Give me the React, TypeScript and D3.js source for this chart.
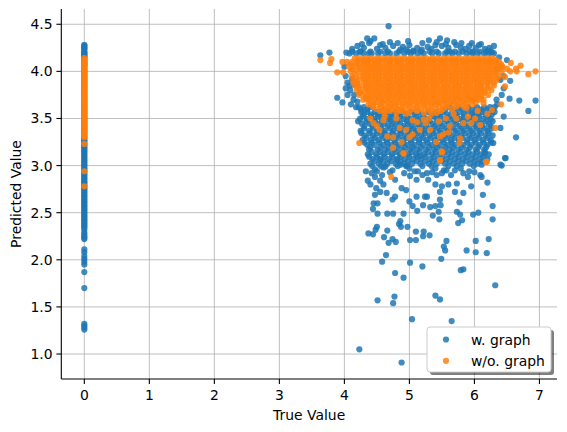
import React from 'react';
import * as d3 from 'd3';

const xTicks = [0, 1, 2, 3, 4, 5, 6, 7];
const yTicks = [1.0, 1.5, 2.0, 2.5, 3.0, 3.5, 4.0, 4.5];
const seriesNames = ['w. graph', 'w/o. graph'];
const seriesColors = ['#1f77b4', '#ff7f0e'];

// points at True Value = 0
const zeroBlueY = [4.28, 4.26, 4.24, 4.21, 4.19, 4.17, 4.15, 4.12, 4.09, 4.06, 4.02, 3.98, 3.94, 3.9, 3.86, 3.82, 3.78, 3.74, 3.7, 3.66, 3.62, 3.58, 3.54, 3.5, 3.46, 3.42, 3.38, 3.34, 3.3, 3.27, 3.24, 3.21, 3.18, 3.15, 3.12, 3.09, 3.06, 3.03, 3.0, 2.97, 2.94, 2.91, 2.88, 2.85, 2.82, 2.79, 2.76, 2.73, 2.7, 2.67, 2.64, 2.61, 2.58, 2.55, 2.52, 2.49, 2.46, 2.43, 2.4, 2.37, 2.34, 2.29, 2.25, 2.22, 2.11, 2.08, 2.04, 2.01, 1.98, 1.95, 1.87, 1.7, 1.32, 1.3, 1.28, 1.26];
const zeroBlueY2 = [4.275, 4.25, 4.23, 4.2, 4.18, 4.16, 4.135, 4.105, 4.075, 4.04, 4.0, 3.96, 3.92, 3.88, 3.84, 3.8, 3.76, 3.72, 3.68, 3.64, 3.6, 3.56, 3.52, 3.48, 3.44, 3.4, 3.36, 3.32, 3.285, 3.255, 3.225, 3.195, 3.165, 3.135, 3.105, 3.075, 3.045, 3.015, 2.985, 2.955, 2.925, 2.895, 2.865, 2.835, 2.805, 2.775, 2.745, 2.715, 2.685, 2.655, 2.625, 2.595, 2.565, 2.535, 2.505, 2.475, 2.445, 2.415, 2.385, 2.355, 2.32, 2.27, 2.235];
const zeroOrangeY = [4.14, 4.11, 4.08, 4.05, 4.02, 3.99, 3.96, 3.93, 3.9, 3.87, 3.84, 3.81, 3.78, 3.75, 3.72, 3.69, 3.66, 3.63, 3.6, 3.57, 3.54, 3.51, 3.48, 3.45, 3.42, 3.39, 3.36, 3.33, 3.3, 3.23, 2.94, 2.78];
const zeroOrangeY2 = [4.125, 4.095, 4.065, 4.035, 4.005, 3.975, 3.945, 3.915, 3.885, 3.855, 3.825, 3.795, 3.765, 3.735, 3.705, 3.675, 3.645, 3.615, 3.585, 3.555, 3.525, 3.495, 3.465, 3.435, 3.405, 3.375, 3.345, 3.315];

// dense blue cloud, rows of [predicted, true values]
const blueRows: [number, number[]][] = [
  [4.21, [4.12, 4.25, 4.4, 4.55, 4.67, 4.84, 4.98, 5.06, 5.18, 5.31, 5.42, 5.58, 5.7, 5.82, 5.93, 6.08, 6.18, 6.26]],
  [4.19, [4.08, 4.18, 4.3, 4.38, 4.52, 4.63, 4.7, 4.8, 4.92, 5.02, 5.13, 5.22, 5.35, 5.45, 5.55, 5.66, 5.76, 5.88, 5.97, 6.05, 6.15, 6.22, 6.3]],
  [3.62, [4.22, 4.3, 4.4, 5.62, 5.76, 5.9, 6.04, 6.15, 6.24, 6.31]],
  [3.595, [4.26, 4.35, 5.55, 5.69, 5.83, 5.97, 6.1, 6.2, 6.28]],
  [3.57, [4.26, 4.35, 4.47, 4.55, 4.66, 4.79, 4.9, 5.03, 5.14, 5.29, 5.41, 5.52, 5.66, 5.77, 5.91, 6.01, 6.12, 6.23, 6.31]],
  [3.545, [4.3, 4.41, 4.51, 4.6, 4.72, 4.84, 4.96, 5.08, 5.2, 5.34, 5.46, 5.58, 5.71, 5.84, 5.96, 6.06, 6.17, 6.27]],
  [3.52, [4.28, 4.41, 4.52, 4.63, 4.73, 4.86, 4.97, 5.11, 5.22, 5.37, 5.48, 5.61, 5.73, 5.84, 5.97, 6.07, 6.21]],
  [3.495, [4.24, 4.35, 4.46, 4.57, 4.68, 4.79, 4.91, 5.03, 5.16, 5.28, 5.42, 5.54, 5.66, 5.78, 5.9, 6.02, 6.14, 6.25]],
  [3.47, [4.21, 4.34, 4.47, 4.58, 4.71, 4.82, 4.96, 5.07, 5.19, 5.31, 5.44, 5.57, 5.69, 5.82, 5.95, 6.06, 6.18, 6.28]],
  [3.445, [4.27, 4.39, 4.5, 4.62, 4.74, 4.86, 4.98, 5.12, 5.24, 5.36, 5.48, 5.6, 5.72, 5.85, 5.98, 6.1, 6.22]],
  [3.42, [4.31, 4.43, 4.55, 4.67, 4.78, 4.91, 5.03, 5.15, 5.26, 5.39, 5.51, 5.63, 5.77, 5.88, 6.01, 6.12, 6.25]],
  [3.395, [4.3, 4.44, 4.57, 4.7, 4.82, 4.94, 5.06, 5.19, 5.31, 5.43, 5.56, 5.68, 5.8, 5.92, 6.04, 6.16, 6.26]],
  [3.37, [4.25, 4.38, 4.51, 4.62, 4.75, 4.86, 4.99, 5.1, 5.23, 5.35, 5.47, 5.59, 5.71, 5.83, 5.95, 6.08, 6.2]],
  [3.345, [4.26, 4.39, 4.5, 4.62, 4.74, 4.87, 5.0, 5.12, 5.24, 5.37, 5.49, 5.61, 5.74, 5.86, 5.98, 6.1, 6.22]],
  [3.32, [4.31, 4.44, 4.57, 4.68, 4.81, 4.93, 5.06, 5.18, 5.31, 5.42, 5.55, 5.66, 5.79, 5.92, 6.04, 6.17, 6.28]],
  [3.295, [4.34, 4.47, 4.6, 4.72, 4.84, 4.96, 5.09, 5.21, 5.33, 5.45, 5.58, 5.7, 5.82, 5.95, 6.07, 6.2]],
  [3.27, [4.28, 4.41, 4.52, 4.65, 4.77, 4.9, 5.02, 5.15, 5.26, 5.39, 5.51, 5.64, 5.76, 5.89, 6.0, 6.13, 6.25]],
  [3.245, [4.31, 4.42, 4.54, 4.66, 4.78, 4.91, 5.03, 5.15, 5.28, 5.4, 5.53, 5.65, 5.77, 5.89, 6.02, 6.14, 6.26]],
  [3.22, [4.35, 4.46, 4.6, 4.72, 4.84, 4.97, 5.08, 5.21, 5.34, 5.46, 5.59, 5.7, 5.83, 5.95, 6.08, 6.2]],
  [3.195, [4.4, 4.55, 4.68, 4.8, 4.93, 5.05, 5.17, 5.3, 5.42, 5.55, 5.67, 5.8, 5.93, 6.06, 6.18]],
  [3.17, [4.38, 4.51, 4.63, 4.76, 4.88, 5.01, 5.12, 5.25, 5.38, 5.5, 5.62, 5.75, 5.88, 6.02, 6.15]],
  [3.145, [4.42, 4.55, 4.67, 4.8, 4.92, 5.04, 5.16, 5.29, 5.41, 5.54, 5.66, 5.79, 5.91, 6.04, 6.16]],
  [3.12, [4.36, 4.49, 4.6, 4.73, 4.85, 4.98, 5.1, 5.23, 5.35, 5.47, 5.6, 5.72, 5.85, 5.97, 6.1, 6.22]],
  [3.095, [4.38, 4.5, 4.62, 4.74, 4.87, 5.0, 5.12, 5.25, 5.38, 5.51, 5.64, 5.76, 5.89, 6.02, 6.14]],
  [3.07, [4.43, 4.55, 4.68, 4.81, 4.93, 5.06, 5.18, 5.32, 5.44, 5.57, 5.7, 5.82, 5.95, 6.08, 6.2]],
  [3.045, [4.46, 4.6, 4.72, 4.86, 4.98, 5.11, 5.24, 5.36, 5.49, 5.62, 5.75, 5.87, 6.0, 6.12]],
  [3.02, [4.4, 4.53, 4.66, 4.79, 4.92, 5.04, 5.17, 5.3, 5.42, 5.55, 5.68, 5.81, 5.93, 6.05]],
  [2.995, [4.43, 4.56, 4.82, 4.95, 5.2, 5.34, 5.6, 5.73, 5.99]],
];

// scattered blue points [true, predicted]
const blueScatter: [number, number][] = [
  [4.12, 4.24], [4.2, 4.27], [4.3, 4.25], [4.38, 4.3], [4.5, 4.24], [4.55, 4.28], [4.63, 4.25], [4.75, 4.27],
  [4.82, 4.3], [4.9, 4.26], [5.0, 4.28], [5.12, 4.25], [5.2, 4.3], [5.28, 4.26], [5.34, 4.24], [5.42, 4.31],
  [5.5, 4.27], [5.6, 4.25], [5.72, 4.28], [5.8, 4.3], [5.86, 4.24], [5.92, 4.27], [6.02, 4.25], [6.1, 4.29],
  [6.16, 4.24], [6.22, 4.22], [4.4, 4.32], [5.3, 4.33], [5.58, 4.33], [4.98, 4.32], [6.3, 4.27],
  [4.68, 4.48], [3.63, 4.17], [3.77, 4.2], [4.03, 4.2], [4.27, 4.29], [4.35, 4.35], [4.46, 4.35], [4.59, 4.29],
  [4.7, 4.31], [4.86, 4.23], [4.95, 4.23], [5.06, 4.22], [5.19, 4.23], [5.4, 4.28], [5.47, 4.35], [5.56, 4.29],
  [5.69, 4.31], [5.79, 4.25], [5.96, 4.3], [6.07, 4.28], [6.23, 4.25], [6.27, 4.2], [5.98, 4.21], [5.62, 4.21],
  [4.42, 4.19], [4.24, 4.21], [3.89, 3.72], [3.97, 3.67], [4.14, 3.7], [4.09, 3.8], [4.14, 3.86], [4.02, 3.95],
  [4.05, 3.88], [4.0, 4.05], [6.45, 3.82], [6.54, 3.71], [6.69, 3.69], [6.94, 3.69], [6.83, 3.58], [6.45, 3.52],
  [6.64, 3.3], [6.4, 3.4], [6.47, 3.08], [6.4, 3.01], [6.45, 3.95], [6.5, 4.12], [6.38, 4.15], [6.42, 3.75],
  [6.35, 3.65], [6.55, 3.9], [6.16, 3.13], [6.11, 3.01], [6.29, 3.24], [6.34, 3.7], [6.4, 3.91], [6.34, 4.02],
  [4.05, 3.75], [4.1, 3.65], [4.18, 3.62], [4.2, 3.68], [4.15, 3.75], [4.08, 3.85], [4.02, 3.82], [4.12, 3.92],
  [4.47, 2.96], [4.6, 2.98], [4.74, 2.95], [5.0, 2.97], [5.13, 2.94], [5.4, 2.97], [5.53, 2.95], [5.79, 2.97],
  [5.92, 2.94],
  [4.33, 2.94], [4.5, 2.94], [4.47, 2.88], [4.49, 2.76], [4.55, 2.72], [4.47, 2.69], [4.45, 2.6], [4.51, 2.6],
  [4.44, 2.54], [4.51, 2.49], [4.66, 2.49], [4.65, 2.71], [4.74, 2.64], [4.78, 2.67], [4.88, 2.76], [4.95, 2.74],
  [4.75, 2.49], [4.91, 2.49], [4.86, 2.41], [4.84, 2.38], [4.97, 2.35], [4.87, 2.35], [4.5, 2.35], [4.48, 2.32],
  [4.37, 2.28], [4.44, 2.27], [4.66, 2.31], [4.61, 2.24], [4.68, 2.18], [4.74, 2.22], [4.79, 2.19], [4.64, 2.05],
  [4.58, 1.98], [5.01, 2.21], [5.1, 2.21], [5.01, 1.97], [5.1, 2.3], [5.22, 2.3], [5.21, 2.25], [5.31, 2.26],
  [5.2, 1.93], [5.11, 2.67], [5.05, 2.57], [5.12, 2.52], [5.21, 2.58], [5.24, 2.67], [5.27, 2.67], [5.32, 2.56],
  [5.4, 2.57], [5.47, 2.72], [5.47, 2.64], [5.48, 2.58], [5.45, 2.51], [5.36, 2.47], [5.46, 2.43], [5.57, 2.2],
  [5.53, 2.14], [5.55, 2.1], [5.49, 2.01], [5.83, 1.9], [5.79, 1.89], [5.88, 2.1], [6.02, 2.2], [6.02, 2.08],
  [6.19, 2.07], [6.22, 2.22], [5.73, 2.51], [5.78, 2.48], [5.81, 2.42], [5.75, 2.39], [5.77, 2.61], [5.7, 2.72],
  [5.83, 2.71], [5.73, 2.81], [5.98, 2.48], [6.06, 2.5], [6.13, 2.69], [6.28, 2.57], [6.28, 2.43], [6.09, 2.9],
  [6.11, 2.88], [6.42, 3.0], [6.48, 3.08], [6.32, 1.73], [5.4, 1.62], [5.47, 1.58], [4.77, 1.61], [4.75, 1.54],
  [4.51, 1.57], [4.78, 1.86], [4.91, 1.81], [5.04, 1.37], [5.65, 1.35], [4.23, 1.05], [4.88, 0.91], [4.86, 3.01],
  [4.81, 3.06], [4.96, 3.0], [5.01, 2.89], [5.11, 2.85], [5.29, 2.85], [5.27, 2.92], [5.42, 2.9], [5.57, 2.95],
  [5.7, 2.95], [5.83, 2.92], [5.16, 3.1], [4.55, 3.06], [4.63, 2.99], [4.78, 2.85], [4.36, 2.84], [4.6, 2.8],
  [5.0, 2.62], [5.6, 2.8], [5.95, 2.78], [6.2, 2.82], [4.42, 2.92], [4.58, 2.9], [4.7, 2.93], [4.92, 2.92],
  [5.08, 2.94], [5.2, 2.9], [5.35, 2.93], [5.5, 2.92], [5.64, 2.9], [5.9, 2.88], [6.0, 2.93], [4.4, 2.8],
  [4.55, 2.84], [5.4, 2.8], [5.5, 2.78],
];

// dense orange cloud rows [predicted, true values]
const orangeRows: [number, number[]][] = [
  [4.14, [4.16, 4.24, 4.33, 4.41, 4.5, 4.58, 4.67, 4.75, 4.84, 4.92, 5.01, 5.09, 5.18, 5.26, 5.35, 5.43, 5.52, 5.6, 5.69, 5.77, 5.86, 5.94, 6.03, 6.11, 6.2, 6.28]],
  [4.12, [4.2, 4.29, 4.37, 4.46, 4.54, 4.63, 4.71, 4.8, 4.88, 4.97, 5.05, 5.14, 5.22, 5.31, 5.39, 5.48, 5.56, 5.65, 5.73, 5.82, 5.9, 5.99, 6.07, 6.16, 6.24, 6.33]],
  [4.1, [4.04, 4.12, 4.2, 4.29, 4.37, 4.46, 4.54, 4.63, 4.71, 4.8, 4.88, 4.97, 5.05, 5.14, 5.22, 5.31, 5.39, 5.48, 5.56, 5.65, 5.73, 5.82, 5.9, 5.99, 6.07, 6.16, 6.24, 6.33, 6.38]],
  [4.075, [4.1, 4.2, 4.29, 4.37, 4.46, 4.54, 4.63, 4.71, 4.8, 4.88, 4.97, 5.05, 5.14, 5.22, 5.31, 5.39, 5.48, 5.56, 5.65, 5.73, 5.82, 5.9, 5.99, 6.07, 6.16, 6.24, 6.33, 6.41]],
  [4.05, [4.07, 4.16, 4.24, 4.33, 4.41, 4.5, 4.58, 4.67, 4.75, 4.84, 4.92, 5.01, 5.09, 5.18, 5.26, 5.35, 5.43, 5.52, 5.6, 5.69, 5.77, 5.86, 5.94, 6.03, 6.11, 6.2, 6.28, 6.37, 6.43]],
  [4.025, [4.12, 4.24, 4.33, 4.41, 4.5, 4.58, 4.67, 4.75, 4.84, 4.92, 5.01, 5.09, 5.18, 5.26, 5.35, 5.43, 5.52, 5.6, 5.69, 5.77, 5.86, 5.94, 6.03, 6.11, 6.2, 6.28, 6.38]],
  [4.0, [4.1, 4.2, 4.29, 4.37, 4.46, 4.54, 4.63, 4.71, 4.8, 4.88, 4.97, 5.05, 5.14, 5.22, 5.31, 5.39, 5.48, 5.56, 5.65, 5.73, 5.82, 5.9, 5.99, 6.07, 6.16, 6.24, 6.33, 6.42]],
  [3.975, [4.16, 4.29, 4.37, 4.46, 4.54, 4.63, 4.71, 4.8, 4.88, 4.97, 5.05, 5.14, 5.22, 5.31, 5.39, 5.48, 5.56, 5.65, 5.73, 5.82, 5.9, 5.99, 6.07, 6.16, 6.24, 6.33]],
  [3.95, [4.12, 4.24, 4.33, 4.41, 4.5, 4.58, 4.67, 4.75, 4.84, 4.92, 5.01, 5.09, 5.18, 5.26, 5.35, 5.43, 5.52, 5.6, 5.69, 5.77, 5.86, 5.94, 6.03, 6.11, 6.2, 6.28, 6.38]],
  [3.925, [4.18, 4.29, 4.37, 4.46, 4.54, 4.63, 4.71, 4.8, 4.88, 4.97, 5.05, 5.14, 5.22, 5.31, 5.39, 5.48, 5.56, 5.65, 5.73, 5.82, 5.9, 5.99, 6.07, 6.16, 6.24, 6.34]],
  [3.9, [4.14, 4.2, 4.29, 4.37, 4.46, 4.54, 4.63, 4.71, 4.8, 4.88, 4.97, 5.05, 5.14, 5.22, 5.31, 5.39, 5.48, 5.56, 5.65, 5.73, 5.82, 5.9, 5.99, 6.07, 6.16, 6.24, 6.33]],
  [3.875, [4.2, 4.33, 4.41, 4.5, 4.58, 4.67, 4.75, 4.84, 4.92, 5.01, 5.09, 5.18, 5.26, 5.35, 5.43, 5.52, 5.6, 5.69, 5.77, 5.86, 5.94, 6.03, 6.11, 6.2, 6.29]],
  [3.85, [4.17, 4.24, 4.33, 4.41, 4.5, 4.58, 4.67, 4.75, 4.84, 4.92, 5.01, 5.09, 5.18, 5.26, 5.35, 5.43, 5.52, 5.6, 5.69, 5.77, 5.86, 5.94, 6.03, 6.11, 6.2, 6.3]],
  [3.825, [4.22, 4.33, 4.41, 4.5, 4.58, 4.67, 4.75, 4.84, 4.92, 5.01, 5.09, 5.18, 5.26, 5.35, 5.43, 5.52, 5.6, 5.69, 5.77, 5.86, 5.94, 6.03, 6.11, 6.21]],
  [3.8, [4.19, 4.29, 4.37, 4.46, 4.54, 4.63, 4.71, 4.8, 4.88, 4.97, 5.05, 5.14, 5.22, 5.31, 5.39, 5.48, 5.56, 5.65, 5.73, 5.82, 5.9, 5.99, 6.07, 6.16, 6.26]],
  [3.775, [4.25, 4.37, 4.46, 4.54, 4.63, 4.71, 4.8, 4.88, 4.97, 5.05, 5.14, 5.22, 5.31, 5.39, 5.48, 5.56, 5.65, 5.73, 5.82, 5.9, 5.99, 6.07, 6.16]],
  [3.75, [4.23, 4.33, 4.41, 4.5, 4.58, 4.67, 4.75, 4.84, 4.92, 5.01, 5.09, 5.18, 5.26, 5.35, 5.43, 5.52, 5.6, 5.69, 5.77, 5.86, 5.94, 6.03, 6.11, 6.21]],
  [3.725, [4.32, 4.41, 4.5, 4.58, 4.67, 4.75, 4.84, 4.92, 5.01, 5.09, 5.18, 5.26, 5.35, 5.43, 5.52, 5.6, 5.69, 5.77, 5.86, 5.94, 6.03, 6.1]],
  [3.7, [4.29, 4.37, 4.46, 4.54, 4.63, 4.71, 4.8, 4.88, 4.97, 5.05, 5.14, 5.22, 5.31, 5.39, 5.48, 5.56, 5.65, 5.73, 5.82, 5.9, 5.99, 6.07, 6.14]],
  [3.675, [4.41, 4.5, 4.58, 4.67, 4.76, 4.84, 4.94, 5.02, 5.11, 5.2, 5.28, 5.37, 5.45, 5.54, 5.63, 5.72, 5.81, 5.91, 6.02]],
  [3.65, [4.37, 4.45, 4.55, 4.62, 4.72, 4.8, 4.9, 4.98, 5.07, 5.15, 5.24, 5.33, 5.41, 5.5, 5.58, 5.68, 5.76, 5.86, 5.97]],
  [3.625, [4.44, 4.56, 4.68, 4.78, 4.89, 5.0, 5.12, 5.23, 5.34, 5.46, 5.58, 5.72, 5.84]],
  [3.6, [4.5, 4.62, 4.74, 4.83, 4.95, 5.06, 5.18, 5.28, 5.4, 5.52, 5.66]],
  [3.58, [4.55, 4.7, 4.88, 5.12, 5.32, 5.48]],
  [3.56, [4.62, 4.8, 5.0, 5.22, 5.42]],
];

// scattered orange points [true, predicted]
const orangeScatter: [number, number][] = [
  [3.63, 4.12], [3.78, 4.09], [3.8, 4.13], [3.89, 3.99], [3.98, 3.99], [3.97, 4.1], [4.14, 3.87], [4.24, 3.77],
  [4.34, 3.71], [4.45, 3.45], [4.23, 3.24], [4.54, 3.38], [4.66, 3.31], [4.75, 3.3], [4.75, 3.19], [4.88, 3.25],
  [4.91, 3.13], [5.0, 3.3], [4.95, 3.38], [5.05, 3.48], [5.16, 3.38], [5.22, 3.49], [5.32, 3.38], [5.34, 3.55],
  [5.41, 3.25], [5.47, 3.31], [5.52, 3.33], [5.56, 3.5], [5.5, 3.15], [5.47, 3.06], [5.78, 3.29], [5.77, 3.24],
  [5.83, 3.45], [5.88, 3.61], [6.01, 3.5], [6.09, 3.43], [6.19, 3.04], [6.32, 3.4], [6.27, 3.59], [6.41, 3.65],
  [6.47, 3.84], [6.47, 3.94], [6.56, 4.09], [6.55, 4.0], [6.64, 4.03], [6.71, 4.06], [6.65, 4.0], [6.83, 3.97],
  [6.94, 4.0], [6.5, 4.03], [6.4, 4.05], [4.6, 3.59], [4.7, 3.63], [4.86, 3.59], [5.11, 3.59], [5.68, 3.55],
  [5.98, 3.7], [6.14, 3.66], [4.91, 3.13], [5.5, 3.14], [5.47, 3.05], [6.18, 3.04], [4.72, 2.88], [4.4, 3.5],
  [4.6, 3.48], [5.25, 3.45], [5.9, 3.52], [6.2, 3.55], [4.5, 3.42], [4.62, 3.52], [4.8, 3.5], [4.95, 3.55],
  [5.12, 3.46], [5.3, 3.5], [5.45, 3.47], [5.62, 3.42], [5.72, 3.5], [5.95, 3.45], [6.05, 3.58], [4.85, 3.4],
  [5.05, 3.33], [5.6, 3.35],
];

const W = 567;
const H = 432;
const L = 61.3, R = 557, T = 9, B = 379;
const FONT = '"DejaVu Sans", sans-serif';
const FS = 13.9;

export default function App() {
  const x = d3.scaleLinear().domain([-0.354, 7.27]).range([L, R]);
  const y = d3.scaleLinear().domain([0.735, 4.662]).range([B, T]);

  const toPts = (vals: number[]) => vals.map((v) => [0, v] as [number, number]);
  const fromRows = (rows: [number, number[]][]) =>
    rows.flatMap(([py, xs]) => xs.map((v) => [v, py] as [number, number]));

  const bluePts: [number, number][] = [
    ...toPts(zeroBlueY),
    ...toPts(zeroBlueY2),
    ...fromRows(blueRows),
    ...blueScatter,
  ];
  const orangePts: [number, number][] = [
    ...toPts(zeroOrangeY),
    ...toPts(zeroOrangeY2),
    ...fromRows(orangeRows),
    ...orangeScatter,
  ];

  const r = 3.1;
  const op = 0.85;

  return (
    <svg width={W} height={H} style={{ position: 'absolute', left: 0, top: 0, background: '#fff' }} fontFamily={FONT}>
      <rect width={W} height={H} fill="#fff" />
      <g stroke="#b0b0b0" strokeWidth={0.8}>
        {xTicks.map((t) => (
          <line key={'gx' + t} x1={x(t)} x2={x(t)} y1={T} y2={B} />
        ))}
        {yTicks.map((t) => (
          <line key={'gy' + t} x1={L} x2={R} y1={y(t)} y2={y(t)} />
        ))}
      </g>
      <g fill={seriesColors[0]} fillOpacity={op}>
        {bluePts.map((p, i) => (
          <circle key={'b' + i} cx={x(p[0])} cy={y(p[1])} r={r} />
        ))}
      </g>
      <g fill={seriesColors[1]} fillOpacity={op}>
        {orangePts.map((p, i) => (
          <circle key={'o' + i} cx={x(p[0])} cy={y(p[1])} r={r} />
        ))}
      </g>
      <line x1={L} x2={L} y1={T} y2={B} stroke="#000" strokeWidth={1.1} />
      <line x1={L} x2={R} y1={B} y2={B} stroke="#000" strokeWidth={1.1} />
      {xTicks.map((t) => (
        <g key={'xt' + t}>
          <line x1={x(t)} x2={x(t)} y1={B} y2={B + 4.9} stroke="#000" strokeWidth={1.1} />
          <text x={x(t)} y={400} textAnchor="middle" fontSize={FS} fill="#000">
            {t}
          </text>
        </g>
      ))}
      {yTicks.map((t) => (
        <g key={'yt' + t}>
          <line x1={L - 4.9} x2={L} y1={y(t)} y2={y(t)} stroke="#000" strokeWidth={1.1} />
          <text x={52.5} y={y(t) + 5} textAnchor="end" fontSize={FS} fill="#000">
            {t.toFixed(1)}
          </text>
        </g>
      ))}
      <text x={(L + R) / 2} y={420} textAnchor="middle" fontSize={FS} fill="#000">
        True Value
      </text>
      <text transform={`translate(20.5, ${(T + B) / 2}) rotate(-90)`} textAnchor="middle" fontSize={FS} fill="#000">
        Predicted Value
      </text>
      <g>
        <rect x={430} y={330} width={124} height={45} rx={3} fill="#000" fillOpacity={0.5} />
        <rect x={427} y={327} width={124} height={45} rx={3} fill="#fff" stroke="#cccccc" strokeWidth={1} />
        {seriesNames.map((n, i) => (
          <g key={n}>
            <circle cx={446} cy={339.5 + i * 21.3} r={r} fill={seriesColors[i]} fillOpacity={op} />
            <text x={471} y={344.5 + i * 21.3} fontSize={FS} fill="#000">
              {n}
            </text>
          </g>
        ))}
      </g>
    </svg>
  );
}
